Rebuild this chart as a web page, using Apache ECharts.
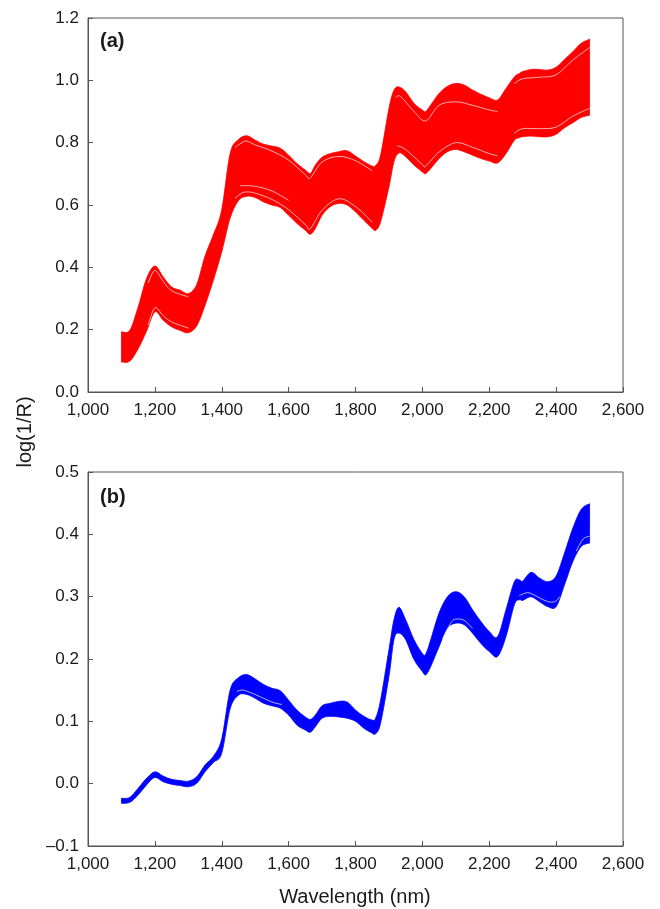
<!DOCTYPE html>
<html>
<head>
<meta charset="utf-8">
<title>Spectra</title>
<script src="https://cdn.jsdelivr.net/npm/echarts@6/dist/echarts.min.js"></script>
<style>
html, body { margin: 0; padding: 0; background: #fff; }
#chart { width: 660px; height: 909px; }
</style>
</head>
<body>
<div id="chart"></div>
<script>
// wavelength grid (nm) used by the band edges
const wavelengths = [1100, 1125, 1150, 1175, 1200, 1225, 1250, 1275, 1300, 1325, 1350, 1375, 1400, 1425, 1450, 1475,
  1500, 1525, 1550, 1575, 1600, 1625, 1650, 1665, 1680, 1700, 1725, 1750, 1775, 1800, 1825, 1850, 1860, 1875,
  1900, 1915, 1930, 1950, 1975, 2000, 2010, 2025, 2050, 2075, 2100, 2125, 2150, 2175, 2200, 2225, 2250, 2275,
  2290, 2300, 2325, 2350, 2375, 2400, 2425, 2450, 2475, 2500];

// (a) upper / lower edge of the bundle of spectra
const aTop = [0.193, 0.198, 0.273, 0.364, 0.404, 0.369, 0.337, 0.327, 0.316, 0.345, 0.436, 0.505, 0.585, 0.765, 0.810, 0.822,
  0.808, 0.795, 0.789, 0.782, 0.760, 0.733, 0.712, 0.701, 0.728, 0.753, 0.765, 0.771, 0.774, 0.757, 0.739, 0.725, 0.727, 0.76,
  0.91, 0.968, 0.979, 0.963, 0.926, 0.905, 0.900, 0.921, 0.958, 0.981, 0.990, 0.985, 0.969, 0.955, 0.944, 0.937, 0.974, 1.011,
  1.022, 1.028, 1.035, 1.035, 1.033, 1.042, 1.067, 1.092, 1.119, 1.132];
const aBottom = [0.096, 0.099, 0.139, 0.195, 0.257, 0.230, 0.209, 0.198, 0.190, 0.212, 0.278, 0.359, 0.45, 0.558, 0.614, 0.628,
  0.624, 0.610, 0.600, 0.592, 0.567, 0.541, 0.519, 0.506, 0.525, 0.567, 0.595, 0.605, 0.600, 0.578, 0.551, 0.525, 0.519, 0.546,
  0.658, 0.739, 0.767, 0.755, 0.728, 0.706, 0.701, 0.717, 0.749, 0.771, 0.778, 0.771, 0.760, 0.749, 0.741, 0.735, 0.765, 0.808,
  0.816, 0.819, 0.821, 0.819, 0.819, 0.827, 0.848, 0.864, 0.881, 0.888];

// (b) upper / lower edge of the bundle
const bTop = [-0.0235, -0.022, -0.0075, 0.0085, 0.019, 0.012, 0.007, 0.005, 0.004, 0.011, 0.030, 0.044, 0.072, 0.150, 0.170, 0.175,
  0.168, 0.159, 0.153, 0.149, 0.134, 0.118, 0.107, 0.103, 0.110, 0.125, 0.129, 0.132, 0.131, 0.118, 0.108, 0.102, 0.105, 0.134,
  0.215, 0.263, 0.283, 0.263, 0.231, 0.209, 0.208, 0.231, 0.274, 0.300, 0.308, 0.300, 0.279, 0.260, 0.244, 0.236, 0.279, 0.324,
  0.327, 0.325, 0.339, 0.330, 0.324, 0.333, 0.370, 0.410, 0.440, 0.449];
const bBottom = [-0.0315, -0.030, -0.018, -0.002, 0.010, 0.003, -0.001, -0.003, -0.005, 0.0005, 0.019, 0.034, 0.049, 0.120, 0.142, 0.143,
  0.137, 0.129, 0.125, 0.121, 0.110, 0.094, 0.086, 0.0825, 0.0915, 0.105, 0.108, 0.107, 0.105, 0.100, 0.089, 0.081, 0.080, 0.097,
  0.172, 0.231, 0.2415, 0.231, 0.199, 0.180, 0.1745, 0.188, 0.220, 0.2495, 0.2575, 0.255, 0.2415, 0.225, 0.212, 0.204, 0.236, 0.287,
  0.295, 0.294, 0.300, 0.292, 0.284, 0.284, 0.319, 0.3565, 0.3805, 0.386];

// white gaps between groups of spectra, [wavelength, value]
const aGaps = [
  [[1440, 0.785], [1460, 0.800], [1475, 0.805], [1500, 0.793], [1550, 0.773], [1600, 0.744], [1650, 0.697], [1665, 0.687], [1700, 0.738], [1750, 0.756], [1800, 0.742], [1850, 0.71]],
  [[1920, 0.945], [1935, 0.948], [1975, 0.9], [2010, 0.87], [2050, 0.92], [2100, 0.931], [2150, 0.92], [2200, 0.905], [2225, 0.9]],
  [[2275, 0.99], [2300, 1.005], [2350, 1.01], [2400, 1.018], [2450, 1.065], [2500, 1.105]],
  [[1440, 0.622], [1460, 0.638], [1475, 0.642], [1500, 0.638], [1550, 0.618], [1600, 0.585], [1650, 0.537], [1665, 0.524], [1700, 0.583], [1750, 0.62], [1800, 0.595], [1850, 0.545]],
  [[1455, 0.662], [1500, 0.66], [1550, 0.645], [1600, 0.615]],
  [[1925, 0.79], [1950, 0.778], [2000, 0.73], [2010, 0.725], [2050, 0.77], [2100, 0.8], [2150, 0.785], [2200, 0.765], [2225, 0.758]],
  [[2275, 0.83], [2300, 0.845], [2350, 0.845], [2400, 0.85], [2450, 0.885], [2500, 0.91]],
  [[1180, 0.35], [1200, 0.39], [1225, 0.355], [1250, 0.325], [1300, 0.305]],
  [[1180, 0.215], [1200, 0.27], [1225, 0.245], [1250, 0.225], [1300, 0.205]]
];
const bGaps = [
  [[1445, 0.148], [1465, 0.150], [1500, 0.143], [1550, 0.131], [1580, 0.127]],
  [[2060, 0.232], [2085, 0.258], [2100, 0.264], [2125, 0.262], [2150, 0.249]],
  [[2290, 0.302], [2310, 0.306], [2325, 0.305], [2375, 0.292], [2400, 0.293], [2410, 0.30]],
  [[2460, 0.373], [2480, 0.392], [2500, 0.397]]
];

const xTicks = [1000, 2600, 200];
const aTicks = [0, 1.2, 0.2];
const bTicks = [-0.1, 0.5, 0.1];

const myChart = echarts.init(document.getElementById('chart'), null, { renderer: 'canvas' });

const font = '"Liberation Sans", Arial, sans-serif';
const axisColor = '#555';
const textColor = '#1a1a1a';

function xAxisFor(gridIndex) {
  return {
    type: 'value', gridIndex: gridIndex, z: 10,
    min: xTicks[0], max: xTicks[1], interval: xTicks[2],
    axisLine: { show: true, onZero: false, lineStyle: { color: axisColor, width: 1 } },
    axisTick: { show: true, inside: true, length: 5, lineStyle: { color: axisColor } },
    splitLine: { show: false },
    axisLabel: {
      color: textColor, fontSize: 17, fontFamily: font, margin: 10,
      formatter: function (v) { return v.toLocaleString('en-US'); }
    }
  };
}

function yAxisFor(gridIndex, ticks) {
  return {
    type: 'value', gridIndex: gridIndex, z: 10,
    min: ticks[0], max: ticks[1], interval: ticks[2],
    axisLine: { show: true, onZero: false, lineStyle: { color: axisColor, width: 1 } },
    axisTick: { show: true, inside: true, length: 5, lineStyle: { color: axisColor } },
    splitLine: { show: false },
    axisLabel: {
      color: textColor, fontSize: 17, fontFamily: font, margin: 9,
      formatter: function (v) {
        if (Math.abs(v) < 1e-9) return '0.0';
        return v.toFixed(1).replace('-', '\u2013');
      }
    }
  };
}

// smooth path through pixel points (Catmull-Rom as cubic Beziers)
function curvePath(pts, start) {
  let d = (start ? 'M' : 'L') + pts[0][0] + ' ' + pts[0][1];
  for (let i = 0; i < pts.length - 1; i++) {
    const p0 = pts[i - 1] || pts[i], p1 = pts[i], p2 = pts[i + 1], p3 = pts[i + 2] || pts[i + 1];
    const c1x = p1[0] + (p2[0] - p0[0]) / 6, c1y = p1[1] + (p2[1] - p0[1]) / 6;
    const c2x = p2[0] - (p3[0] - p1[0]) / 6, c2y = p2[1] - (p3[1] - p1[1]) / 6;
    d += 'C' + c1x + ' ' + c1y + ' ' + c2x + ' ' + c2y + ' ' + p2[0] + ' ' + p2[1];
  }
  return d;
}

// filled band between the lower and upper edge, drawn through the axes of grid idx
function band(idx, lower, upper, color) {
  return {
    type: 'custom', name: 'band' + idx, coordinateSystem: 'cartesian2d',
    xAxisIndex: idx, yAxisIndex: idx, silent: true, z: 2,
    data: [[wavelengths[0], lower[0]]],
    renderItem: function (params, api) {
      const up = wavelengths.map((w, i) => api.coord([w, upper[i]]));
      const low = wavelengths.map((w, i) => api.coord([w, lower[i]])).reverse();
      const d = curvePath(up, true) + curvePath(low, false) + 'Z';
      return {
        type: 'path', shape: { pathData: d },
        style: { fill: color, stroke: color, lineWidth: 0.8 }
      };
    }
  };
}

function gapLines(idx, gaps) {
  return gaps.map((g, k) => ({
    type: 'custom', name: 'gap' + idx + '_' + k, coordinateSystem: 'cartesian2d',
    xAxisIndex: idx, yAxisIndex: idx, silent: true, z: 4,
    data: [g[0]],
    renderItem: function (params, api) {
      const pts = g.map(p => api.coord(p));
      return {
        type: 'path', shape: { pathData: curvePath(pts, true) },
        style: { fill: null, stroke: '#fff', lineWidth: 0.8, opacity: 0.85 }
      };
    }
  }));
}

const option = {
  animation: false,
  backgroundColor: '#fff',
  grid: [
    { left: 88, right: 37, top: 18, height: 374, show: true, borderColor: axisColor, borderWidth: 1, z: 10 },
    { left: 88, right: 37, top: 472, height: 374, show: true, borderColor: axisColor, borderWidth: 1, z: 10 }
  ],
  xAxis: [xAxisFor(0), xAxisFor(1)],
  yAxis: [yAxisFor(0, aTicks), yAxisFor(1, bTicks)],
  series: [].concat(
    band(0, aBottom, aTop, '#ff0000'),
    gapLines(0, aGaps),
    band(1, bBottom, bTop, '#0000ff'),
    gapLines(1, bGaps)
  ),
  graphic: [
    { type: 'text', x: 100, y: 41, style: { text: '(a)', font: 'bold 20px ' + font, fill: textColor, verticalAlign: 'middle' } },
    { type: 'text', x: 100, y: 497, style: { text: '(b)', font: 'bold 20px ' + font, fill: textColor, verticalAlign: 'middle' } },
    { type: 'text', x: 25, y: 432, rotation: Math.PI / 2,
      style: { text: 'log(1/R)', font: '20px ' + font, fill: textColor, align: 'center', verticalAlign: 'middle' } },
    { type: 'text', x: 355, y: 897,
      style: { text: 'Wavelength (nm)', font: '20px ' + font, fill: textColor, align: 'center', verticalAlign: 'middle' } }
  ]
};

myChart.setOption(option);
</script>
</body>
</html>
